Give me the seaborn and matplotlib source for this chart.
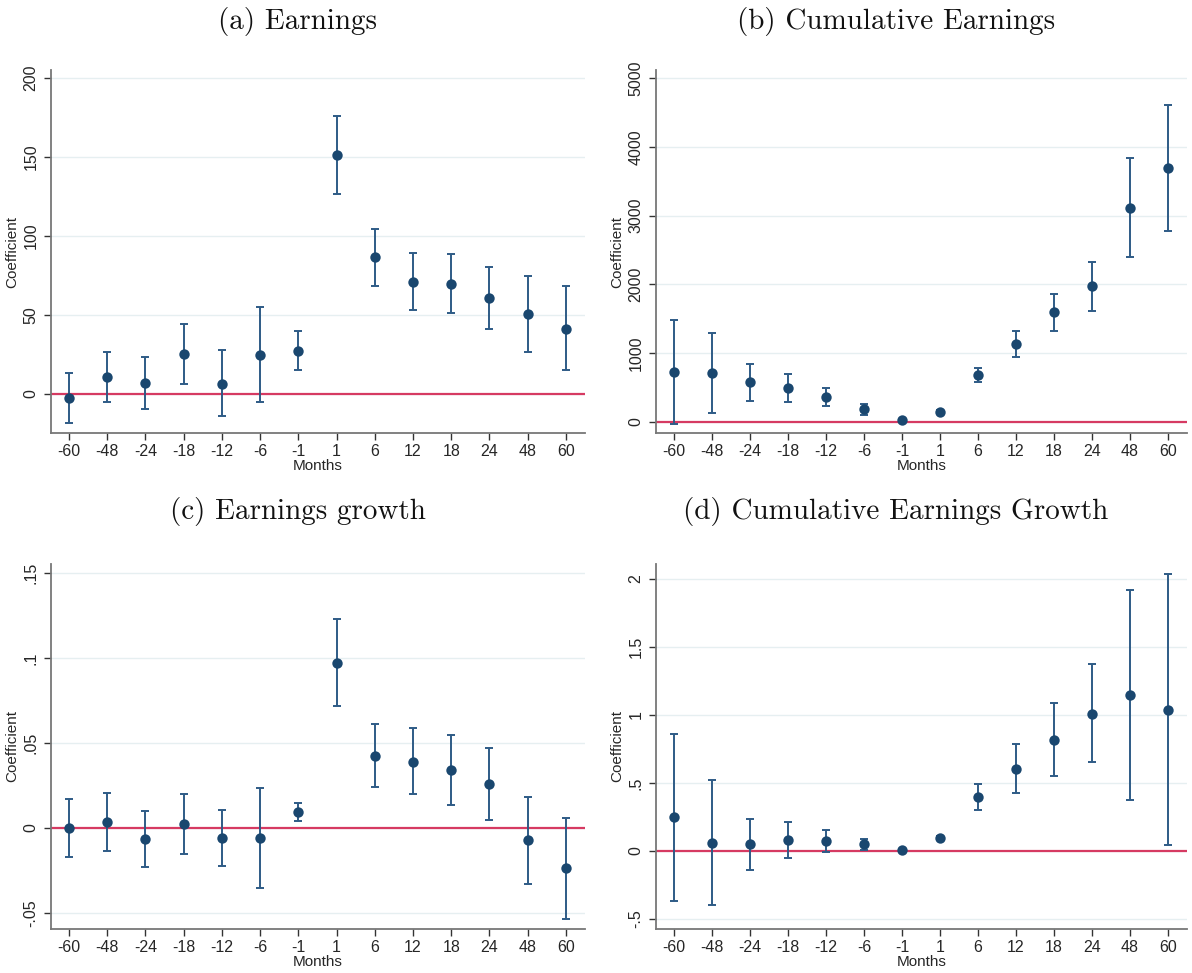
import matplotlib
matplotlib.use("Agg")
import matplotlib.pyplot as plt
import seaborn as sns
import numpy as np
import pandas as pd

months = ["-60", "-48", "-24", "-18", "-12", "-6", "-1", "1", "6", "12", "18", "24", "48", "60"]

earn_coef = [-3, 10.5, 6.8, 24.9, 6.3, 24.5, 27.2, 151.0, 86.3, 70.9, 69.4, 60.3, 50.4, 41.1]
earn_hi = [12.7, 26.6, 23.4, 43.9, 27.4, 54.6, 39.5, 176.0, 104.4, 89.2, 88.4, 80.2, 74.7, 67.9]
earn_lo = [-18.8, -5.3, -9.7, 5.9, -14.3, -5.3, 15.2, 126.4, 68.4, 52.7, 50.8, 40.7, 26.6, 15.2]

cum_coef = [727, 713, 577, 490, 364, 184, 24, 150, 684, 1140, 1596, 1974, 3109, 3686]
cum_hi = [1479, 1295, 849, 698, 500, 257, 38, 168, 786, 1324, 1867, 2328, 3831, 4607]
cum_lo = [-34, 126, 310, 286, 228, 107, 10, 132, 582, 951, 1329, 1620, 2391, 2774]

gr_coef = [0.0, 0.0033, -0.0065, 0.0026, -0.0059, -0.0057, 0.0094, 0.0972, 0.0426, 0.0391, 0.0342, 0.0261, -0.0073, -0.0238]
gr_hi = [0.0173, 0.0204, 0.0100, 0.0202, 0.0106, 0.0238, 0.0147, 0.1231, 0.0613, 0.0587, 0.0548, 0.0473, 0.0185, 0.0061]
gr_lo = [-0.0173, -0.0137, -0.0228, -0.0151, -0.0224, -0.0350, 0.0041, 0.0715, 0.0242, 0.0198, 0.0137, 0.0049, -0.0328, -0.0536]

cgr_coef = [0.248, 0.061, 0.049, 0.078, 0.071, 0.051, 0.007, 0.096, 0.397, 0.603, 0.819, 1.010, 1.145, 1.039]
cgr_hi = [0.863, 0.525, 0.235, 0.211, 0.152, 0.091, 0.015, 0.113, 0.493, 0.784, 1.088, 1.373, 1.919, 2.039]
cgr_lo = [-0.368, -0.400, -0.137, -0.051, -0.010, 0.010, -0.001, 0.078, 0.301, 0.424, 0.551, 0.652, 0.373, 0.042]

titles = ["(a) Earnings", "(b) Cumulative Earnings", "(c) Earnings growth", "(d) Cumulative Earnings Growth"]
yticks_a = [0, 50, 100, 150, 200]
ylabels_a = ["0", "50", "100", "150", "200"]
yticks_b = [0, 1000, 2000, 3000, 4000, 5000]
ylabels_b = ["0", "1000", "2000", "3000", "4000", "5000"]
yticks_c = [-0.05, 0, 0.05, 0.1, 0.15]
ylabels_c = ["-.05", "0", ".05", ".1", ".15"]
yticks_d = [-0.5, 0, 0.5, 1, 1.5, 2]
ylabels_d = ["-.5", "0", ".5", "1", "1.5", "2"]

sns.set_style("white")
plt.rcParams["font.family"] = ["Liberation Sans", "DejaVu Sans"]

W, H = 1192, 973
fig = plt.figure(figsize=(W / 100, H / 100), dpi=100)

NAVY = "#1a476f"
BAR = "#2e5b86"
RED = "#d63a62"
GRID = "#e6eff1"
SPINE = "#777777"

panels = [
    dict(coef=earn_coef, hi=earn_hi, lo=earn_lo, yt=yticks_a, yl=ylabels_a, ylim=(-25, 205),
         rect=(51, 70, 585, 433), title=titles[0], tpos=(298, 22)),
    dict(coef=cum_coef, hi=cum_hi, lo=cum_lo, yt=yticks_b, yl=ylabels_b, ylim=(-160, 5116),
         rect=(656, 70, 1187, 433), title=titles[1], tpos=(896, 22)),
    dict(coef=gr_coef, hi=gr_hi, lo=gr_lo, yt=yticks_c, yl=ylabels_c, ylim=(-0.0594, 0.1553),
         rect=(51, 564, 585, 929), title=titles[2], tpos=(298, 512)),
    dict(coef=cgr_coef, hi=cgr_hi, lo=cgr_lo, yt=yticks_d, yl=ylabels_d, ylim=(-0.574, 2.11),
         rect=(656, 564, 1187, 929), title=titles[3], tpos=(896, 512)),
]

for p in panels:
    x0, y0, x1, y1 = p["rect"]
    ax = fig.add_axes([x0 / W, 1 - y1 / H, (x1 - x0) / W, (y1 - y0) / H])
    df = pd.DataFrame({"pos": np.arange(len(months)), "coef": p["coef"],
                       "hi": p["hi"], "lo": p["lo"]})
    for t in p["yt"]:
        ax.axhline(t, color=GRID, lw=1.0, zorder=0)
    ax.axhline(0, color=RED, lw=1.6, zorder=2)
    err_lo = df["coef"] - df["lo"]
    err_hi = df["hi"] - df["coef"]
    ax.errorbar(df["pos"], df["coef"], yerr=[err_lo, err_hi], fmt="none",
                ecolor=BAR, elinewidth=1.4, capsize=3.2, capthick=1.4, zorder=3)
    sns.scatterplot(data=df, x="pos", y="coef", ax=ax, color=NAVY, s=56,
                    edgecolor=NAVY, linewidth=0, zorder=4, legend=False)
    ax.set_xlim(-0.47, len(months) - 1 + 0.5)
    ax.set_ylim(*p["ylim"])
    ax.set_xticks(np.arange(len(months)))
    ax.set_xticklabels(months)
    ax.set_yticks(p["yt"])
    ax.set_yticklabels(p["yl"], rotation=90, va="center")
    ax.tick_params(axis="both", labelsize=11.5, length=5, width=1.0, color="#333333",
                   direction="out", pad=3, bottom=True, left=True)
    ax.tick_params(axis="y", pad=4)
    ax.set_xlabel("Months", fontsize=11, labelpad=0)
    ax.set_ylabel("Coefficient", fontsize=11, labelpad=3)
    for side in ["top", "right"]:
        ax.spines[side].set_visible(False)
    for side in ["left", "bottom"]:
        ax.spines[side].set_color(SPINE)
        ax.spines[side].set_linewidth(1.3)
    ax.grid(False)
    fig.text(p["tpos"][0] / W, 1 - p["tpos"][1] / H, p["title"], ha="center", va="center",
             fontsize=21, family="cmr10", color="#111111")

fig.savefig("out.png", dpi=100, facecolor="white")
